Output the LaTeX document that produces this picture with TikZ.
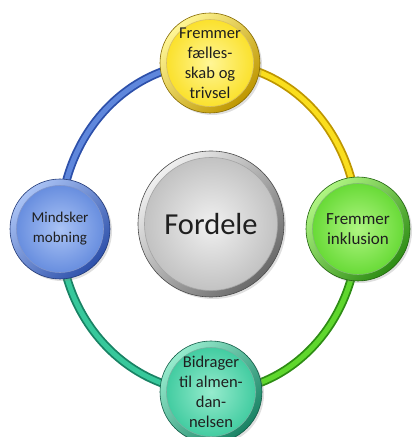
\documentclass[tikz,border=0pt]{standalone}
\usepackage{fontspec}
\setmainfont{Carlito}
\usetikzlibrary{shadows}
\definecolor{yel}{RGB}{250,222,30}
\definecolor{yelL}{RGB}{255,246,150}
\definecolor{yelD}{RGB}{190,150,0}
\definecolor{grn}{RGB}{95,215,45}
\definecolor{grnL}{RGB}{175,245,130}
\definecolor{grnD}{RGB}{45,140,20}
\definecolor{tea}{RGB}{55,200,155}
\definecolor{teaL}{RGB}{150,235,205}
\definecolor{teaD}{RGB}{25,130,100}
\definecolor{blu}{RGB}{95,135,220}
\definecolor{bluL}{RGB}{170,195,245}
\definecolor{bluD}{RGB}{45,80,170}
\definecolor{gry}{RGB}{190,190,190}
\definecolor{gryL}{RGB}{240,240,240}
\definecolor{gryD}{RGB}{105,105,105}
\tikzset{
  bubble/.style 2 args={circle, minimum size=#2, inner sep=0pt, align=center,
    font=\fontsize{16.5}{20}\selectfont, text=black!88,
    top color=#1L, bottom color=#1D, shading angle=45,
    draw=#1D!70!black, line width=0.6pt,
    drop shadow={opacity=0.25, shadow xshift=2pt, shadow yshift=-2pt},
    path picture={\shade[inner color=#1L, outer color=#1]
      (path picture bounding box.center) circle[radius={#2/2-6.5pt}];
      \draw[#1D!60, line width=0.6pt]
      (path picture bounding box.center) circle[radius={#2/2-6.5pt}];}},
  ringarc/.style 2 args={draw=#1, double=#2, double distance=5pt, line width=1.8pt}
}
\begin{document}
\begin{tikzpicture}[x=1pt,y=1pt]
\useasboundingbox (0,0) rectangle (413,437);
\coordinate (Tp) at (210,374);
\coordinate (Bp) at (211,45);
\coordinate (Lp) at (60,208);
\coordinate (Rp) at (358,208);
% ring
\path[ringarc={bluD}{blu}] (Lp) .. controls +(0,92) and +(-83,0) .. (Tp);
\path[ringarc={yelD}{yel}] (Tp) .. controls +(83,0) and +(0,92) .. (Rp);
\path[ringarc={grnD}{grn}] (Rp) .. controls +(0,-90) and +(82,0) .. (Bp);
\path[ringarc={teaD}{tea}] (Bp) .. controls +(-83,0) and +(0,-90) .. (Lp);
% nodes
\node[bubble={gry}{146pt}, font=\fontsize{30.5}{36}\selectfont] (C) at (211,213) {Fordele};
\node[bubble={yel}{100pt}] (T) at (Tp) {Fremmer\\fælles-\\skab og\\trivsel};
\node[bubble={grn}{104pt}, font=\fontsize{17}{20}\selectfont] (R) at (Rp) {Fremmer\\inklusion};
\node[bubble={tea}{102pt}] (B) at (Bp) {Bidrager\\til almen-\\dan-\\nelsen};
\node[bubble={blu}{100pt}, font=\fontsize{15}{20}\selectfont] (L) at (Lp) {Mindsker\\mobning};
\end{tikzpicture}
\end{document}
